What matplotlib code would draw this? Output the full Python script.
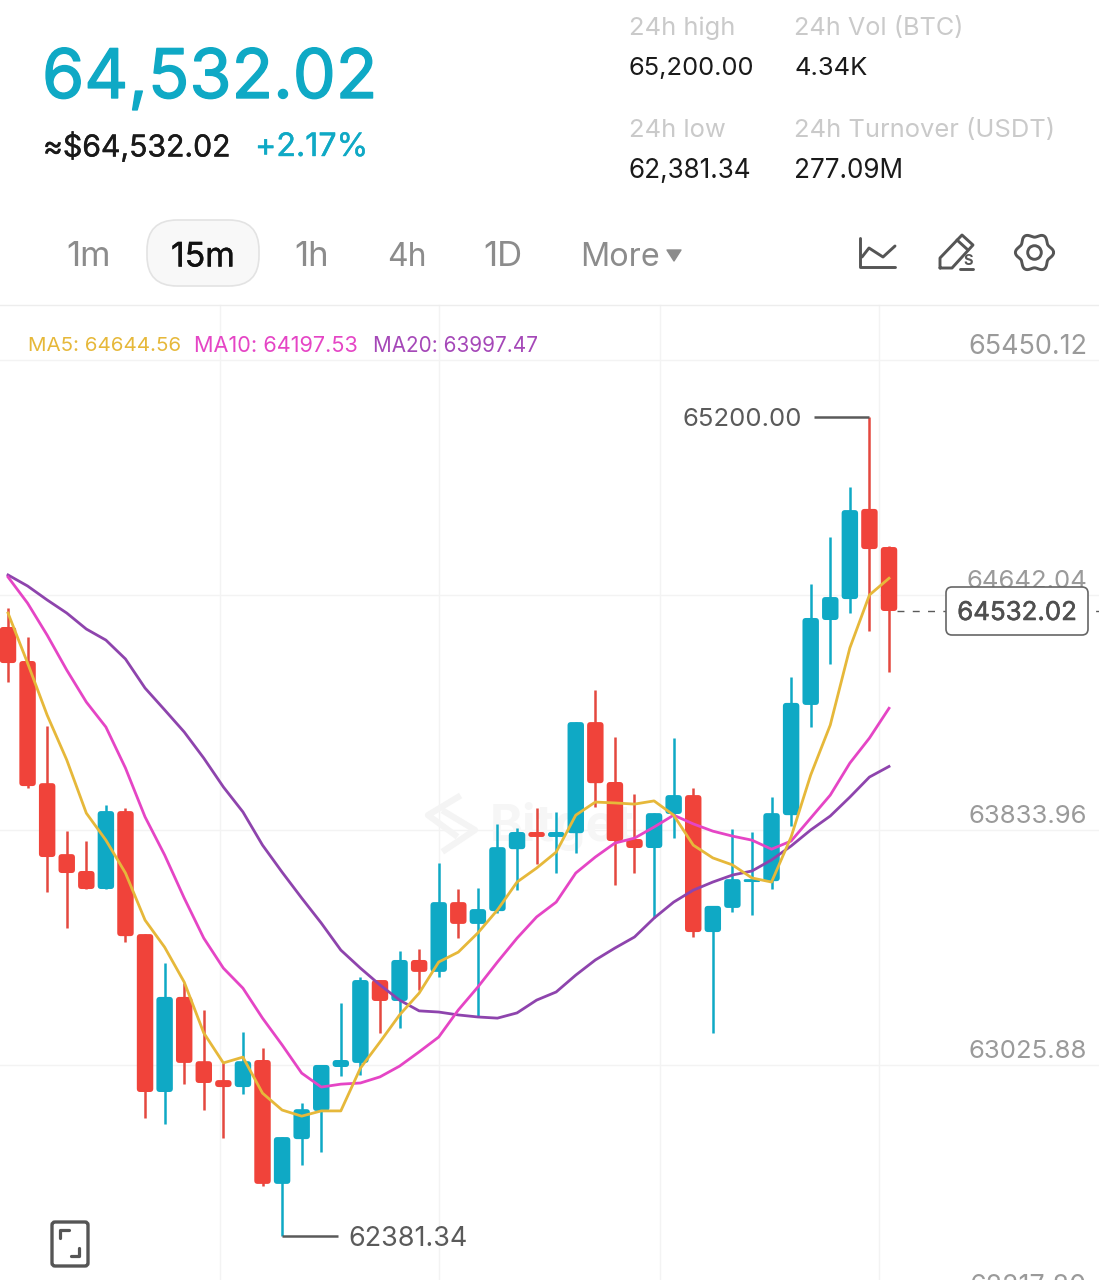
import matplotlib
matplotlib.use("Agg")
import matplotlib.pyplot as plt
import matplotlib.patheffects as pe
from matplotlib.patches import FancyBboxPatch, Circle, Polygon
import numpy as np

opens = [64477,64360,63940,63696,63638,63576,63844,63421,62878,63205,62984,62919,62895,62988,62562,62716,62813,62964,62978,63263,
         63191,63332,63291,63531,63456,63500,63713,63772,63755,63768,64150,63944,63748,63717,63834,63899,63428,63511,63600,63603,
         63830,64209,64501,64573,64883,64752]
closes = [64353,63930,63686,63631,63576,63844,63414,62878,63205,62978,62909,62895,62984,62562,62723,62819,62971,62988,63263,63191,
          63332,63291,63531,63456,63507,63720,63772,63755,63772,64150,63940,63741,63717,63837,63899,63428,63518,63610,63610,63837,
          64216,64508,64580,64879,64745,64532.02]
highs = [64542,64443,64136,63775,63741,63865,63854,63421,63321,63253,63160,62978,63084,63029,62723,62840,62971,63184,63273,63263,
         63363,63370,63665,63576,63579,63800,63786,63854,63841,64150,64260,64099,63903,63837,64095,63923,63518,63782,63772,63892,
         64305,64625,64786,64958,65200.00,64755]
lows = [64288,63923,63566,63442,63576,63576,63394,62788,62768,62905,62816,62720,62871,62555,62381.34,62627,62672,62933,62936,63081,
        63098,63229,63273,63407,63136,63493,63572,63662,63631,63700,63858,63590,63631,63476,63751,63411,63081,63497,63487,63576,
        63793,64133,64350,64525,64463,64322]
ma5 = [64525,64353,64174,64020,63837,63744,63631,63469,63376,63256,63081,62978,62998,62874,62816,62795,62813,62813,62960,63050,
       63143,63218,63325,63359,63425,63504,63600,63648,63703,63830,63875,63872,63868,63879,63830,63727,63683,63659,63614,63600,
       63755,63968,64140,64405,64587,64644.56]
ma10 = [64649,64559,64449,64329,64219,64133,63992,63824,63693,63545,63407,63304,63235,63132,63040,62943,62895,62905,62909,62930,
        62967,63016,63067,63160,63239,63325,63407,63480,63531,63631,63686,63734,63751,63789,63830,63800,63775,63758,63744,63713,
        63741,63820,63899,64009,64095,64197.53]
ma20 = [64656,64618,64570,64525,64470,64432,64367,64267,64192,64116,64026,63927,63841,63727,63634,63545,63459,63366,63304,63246,
        63194,63157,63153,63143,63136,63132,63150,63194,63222,63280,63332,63373,63411,63476,63531,63572,63600,63624,63638,63676,
        63724,63779,63827,63892,63961,63997.47]
price_ticks = [65450.12, 64642.04, 63833.96, 63025.88, 62217.80]
grid_prices = [65395, 64587, 63779, 62971]
grid_slots = [10.83, 22.0, 33.3, 44.5]
last_price = 64532.02
high_price = 65200.00
low_price = 62381.34

UP = "#0FA9C5"
DOWN = "#F0433A"
DOWN_WICK = "#E4483F"
C5, C10, C20 = "#E6B83A", "#E545C5", "#8E44AD"
LBL = "#9A9A9A"
DARK = "#5A5A5A"
GRID = "#F3F3F3"
W, H = 1099, 1280
PX = 3.43864      # price per pixel
SLOT = 19.578     # pixels per candle

plt.rcParams['font.family'] = ['Inter', 'DejaVu Sans']
fig = plt.figure(figsize=(W/100, H/100), dpi=100, facecolor="white")
ax = fig.add_axes([0, 0, 1, 1])
ax.set_xlim(-8/SLOT, (W-8)/SLOT)
ax.set_ylim(65450.12-(H-344)*PX, 65450.12+344*PX)
ax.axis("off")

def numsize(label):
    # the reference sets digits with equal width, Inter's 1 is narrower
    return 19.4 if "1" in label else 18.5

# grid
for g in grid_prices:
    ax.plot([-1, 60], [g, g], color=GRID, lw=1, zorder=1)
for s in grid_slots:
    ax.plot([s, s], [ax.get_ylim()[0], 65450.12+39*PX], color=GRID, lw=1, zorder=1)
ax.plot([-1, 60], [65450.12+39*PX]*2, color="#EDEDED", lw=1, zorder=1)

# watermark
ax.text(24.6, 63790, "Bitget", fontsize=36, color="#F6F6F6", fontweight="bold", va="center", zorder=1)
ax.plot([22.98, 21.45, 22.83], [63892, 63830, 63762], color="#F4F4F4", lw=4.5, zorder=1)
ax.plot([22.32, 23.85, 22.32], [63841, 63779, 63710], color="#F4F4F4", lw=4.5, zorder=1)

# candles
bw = 0.84
for i, (o, c, h, l) in enumerate(zip(opens, closes, highs, lows)):
    col = UP if c >= o else DOWN
    ax.plot([i, i], [l, h], color=(UP if c >= o else DOWN_WICK), lw=1.8, zorder=3, solid_capstyle="butt")
    bot, top = min(o, c), max(o, c)
    aspect = PX*SLOT
    r = min(0.17, (top-bot)/aspect/2)
    ax.add_patch(FancyBboxPatch((i-bw/2, bot), bw, top-bot,
                                boxstyle=f"round,pad=0,rounding_size={r}",
                                mutation_aspect=aspect, fc=col, ec="none", zorder=4))

x = np.arange(len(ma5))
ax.plot(x, ma20, color=C20, lw=2.0, zorder=5, solid_joinstyle="round")
ax.plot(x, ma10, color=C10, lw=2.0, zorder=6, solid_joinstyle="round")
ax.plot(x, ma5, color=C5, lw=2.0, zorder=7, solid_joinstyle="round")

# price scale labels
for p in price_ticks:
    s = f"{p:.2f}"
    ax.text((1087-8)/SLOT, p, s, ha="right", va="center_baseline", fontsize=numsize(s), color=LBL, zorder=2)

# high / low markers
ax.plot([41.17, 44], [high_price]*2, color=DARK, lw=1.8, zorder=8, solid_capstyle="butt")
s = f"{high_price:.2f}"
ax.text(40.56, high_price, s, ha="right", va="center_baseline", fontsize=numsize(s), color=DARK, zorder=8)
ax.plot([14, 16.87], [low_price]*2, color=DARK, lw=1.8, zorder=8, solid_capstyle="butt")
s = f"{low_price:.2f}"
ax.text(17.37, low_price, s, ha="left", va="center_baseline", fontsize=numsize(s), color=DARK, zorder=8)

# last price
ax.plot([45.4, 60], [last_price]*2, color=DARK, lw=1, ls=(0, (5, 6)), zorder=2)

# overlay in pixel space for app chrome
ui = fig.add_axes([0, 0, 1, 1], facecolor="none")
ui.set_xlim(0, W); ui.set_ylim(H, 0); ui.axis("off")
def t(x, y, s, size, color, ha="left", bold=0):
    tx = ui.text(x, y, s, fontsize=size, color=color, ha=ha, va="center_baseline")
    if bold:
        tx.set_path_effects([pe.withStroke(linewidth=bold, foreground=color)])
    return tx

ui.add_patch(FancyBboxPatch((946, 587), 142, 48, boxstyle="round,pad=0,rounding_size=6", fc="white", ec="#666666", lw=1.2, zorder=9))
tx = ui.text(1017, 611, f"{last_price:.2f}", ha="center", va="center_baseline", fontsize=18.6, color="#4F4F4F", zorder=10)
tx.set_path_effects([pe.withStroke(linewidth=0.4, foreground="#4F4F4F")])

t(42, 73, "64,532.02", 49.1, UP, bold=1.0)
t(43, 144, "≈$64,532.02", 21.7, "#1A1A1A", bold=0.3)
t(255, 144, "+2.17%", 23.2, UP, bold=0.3)
CAP = "#CACACA"
t(629, 26, "24h high", 18.4, CAP); t(794, 26, "24h Vol (BTC)", 18.2, CAP)
t(629, 66, "65,200.00", 18.4, "#1A1A1A"); t(794, 66, "4.34K", 18.4, "#1A1A1A")
t(629, 128, "24h low", 18.4, CAP); t(794, 128, "24h Turnover (USDT)", 18.4, CAP)
t(629, 168, "62,381.34", 18.8, "#1A1A1A"); t(794, 168, "277.09M", 18.8, "#1A1A1A")

ui.add_patch(FancyBboxPatch((147, 220), 112, 66, boxstyle="round,pad=0,rounding_size=30", fc="#F8F8F8", ec="#E3E3E3", lw=1.2))
TAB = "#8C8C8C"
t(66, 254, "1m", 25, TAB); t(171, 254, "15m", 24.3, "#111111", bold=0.3)
t(294, 254, "1h", 25, TAB); t(387, 254, "4h", 23, TAB); t(483, 254, "1D", 25, TAB); t(580, 254, "More", 23.3, TAB)
ui.add_patch(Polygon([(667, 250), (681, 250), (674, 261)], closed=True, fc=TAB, ec=TAB, lw=1, joinstyle="round"))

# MA legend
t(28, 344, "MA5: 64644.56", 14.8, C5)
t(194, 344, "MA10: 64197.53", 15.6, C10)
t(373, 344, "MA20: 63997.47", 14.9, "#A548B8")

# icons
IC = "#555555"
k = dict(color=IC, lw=2.1, solid_joinstyle="round", solid_capstyle="round")
ui.plot([860, 860, 895], [238, 267, 267], **k)
ui.plot([862, 869, 883, 895], [257, 248, 257, 246], **k)
ui.plot([940, 940, 962, 973, 952, 942, 940], [268, 258, 235, 245, 268, 268, 268], **k)
ui.plot([957, 968], [240, 250], **k)
ui.plot([960, 973], [268.5, 268.5], **k)
ui.text(968, 261, "S", fontsize=10.5, color=IC, ha="center", va="center", fontweight="bold")
th = np.linspace(0, 2*np.pi, 240)
rg = 17.2 + 1.9*np.cos(6*th)
ui.plot(1034.5+rg*np.cos(th), 252.5+rg*np.sin(th), **k)
ui.add_patch(Circle((1034.5, 252.5), 6.8, fc="none", ec=IC, lw=2.1))
ui.add_patch(FancyBboxPatch((52, 1222), 36, 44, boxstyle="round,pad=0,rounding_size=3", fc="white", ec=IC, lw=2.4))
k2 = dict(color=IC, lw=2.3, solid_joinstyle="round", solid_capstyle="round")
ui.plot([60, 60, 69], [1238, 1230, 1230], **k2)
ui.plot([71, 79, 79], [1256, 1256, 1248], **k2)

fig.savefig("out.png", dpi=100, facecolor="white")
